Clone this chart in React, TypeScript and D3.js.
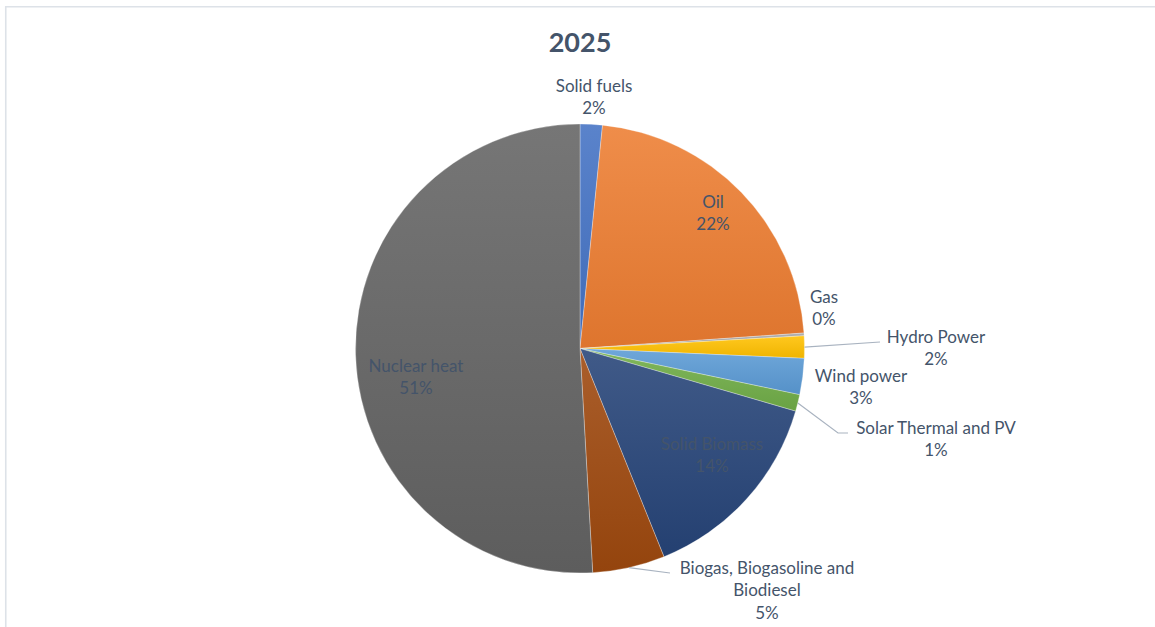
import React from "react";
import * as d3 from "d3";

const categories = [
  "Solid fuels",
  "Oil",
  "Gas",
  "Hydro Power",
  "Wind power",
  "Solar Thermal and PV",
  "Solid Biomass",
  "Biogas, Biogasoline and Biodiesel",
  "Nuclear heat",
];
const values = [1.6, 22.3, 0.2, 1.6, 2.6, 1.2, 14.4, 5.2, 50.9];
const colors = ["#4472C4", "#ED7D31", "#A5A5A5", "#FFC000", "#5B9BD5", "#70AD47", "#264478", "#9E480E", "#636363"];
const title = "2025";

// label layout: center x, baseline of first line, line breaks, leader line
const labelLayout: Record<string, { x: number; y: number; lines?: string[]; leader?: [number, number][] }> = {
  "Solid fuels": { x: 594, y: 92 },
  Oil: { x: 713, y: 208 },
  Gas: { x: 824, y: 303 },
  "Hydro Power": { x: 936, y: 343, leader: [[880, 342]] },
  "Wind power": { x: 861, y: 382 },
  "Solar Thermal and PV": { x: 936, y: 434, leader: [[838, 433], [848, 433]] },
  "Solid Biomass": { x: 712, y: 450 },
  "Biogas, Biogasoline and Biodiesel": {
    x: 767,
    y: 574,
    lines: ["Biogas, Biogasoline and", "Biodiesel"],
    leader: [[670, 573]],
  },
  "Nuclear heat": { x: 416, y: 372 },
};

const W = 1155;
const H = 627;
const cx = 580;
const cy = 348.5;
const R = 224.5;
const textColor = "#44546A";
const font = "Lato, 'Open Sans', sans-serif";

export default function App() {
  const data = categories.map((c, i) => ({ name: c, value: values[i], color: colors[i] }));
  const total = d3.sum(values);
  const pie = d3
    .pie<{ name: string; value: number; color: string }>()
    .value((d) => d.value)
    .sort(null)
    .startAngle(0)
    .endAngle(2 * Math.PI);
  const arcs = pie(data);
  const arc = d3.arc<d3.PieArcDatum<any>>().innerRadius(0).outerRadius(R);

  return (
    <svg
      width={W}
      height={H}
      style={{ position: "absolute", left: 0, top: 0, background: "#fff" }}
      fontFamily={font}
    >
      <defs>
        {arcs.map((a, i) => {
          const c = a.data.color;
          const top = d3.interpolateRgb(c, "#ffffff")(0.12);
          const bottom = d3.color(c)!.darker(0.18).formatHex();
          return (
            <linearGradient key={i} id={`g${i}`} x1="0" y1="0" x2="0" y2="1">
              <stop offset="0%" stopColor={top} />
              <stop offset="100%" stopColor={bottom} />
            </linearGradient>
          );
        })}
      </defs>
      <path d={`M5.75,${H} V6.75 H${W}`} fill="none" stroke="#dde2e8" strokeWidth={1.6} />
      <text x={cx} y={52} textAnchor="middle" fontSize={27} fontWeight="bold" fill={textColor}>
        {title}
      </text>
      <g transform={`translate(${cx},${cy})`}>
        {arcs.map((a, i) => (
          <path key={i} d={arc(a) || ""} fill={`url(#g${i})`} stroke="#ffffff" strokeWidth={0.3} />
        ))}
      </g>
      {arcs.map((a, i) => {
        const lay = labelLayout[a.data.name];
        const mid = (a.startAngle + a.endAngle) / 2;
        const lines = [...(lay.lines || [a.data.name]), `${Math.round((a.data.value / total) * 100)}%`];
        let leader = null;
        if (lay.leader) {
          const px = cx + Math.sin(mid) * R;
          const py = cy - Math.cos(mid) * R;
          const pts: [number, number][] = [[px, py], ...lay.leader];
          leader = <path d={d3.line()(pts) || ""} fill="none" stroke="#a9b3c0" strokeWidth={1.2} />;
        }
        return (
          <g key={i}>
            {leader}
            <text textAnchor="middle" fontSize={17} fill={textColor}>
              {lines.map((l, j) => (
                <tspan key={j} x={lay.x} y={lay.y + j * 22.3}>
                  {l}
                </tspan>
              ))}
            </text>
          </g>
        );
      })}
    </svg>
  );
}
